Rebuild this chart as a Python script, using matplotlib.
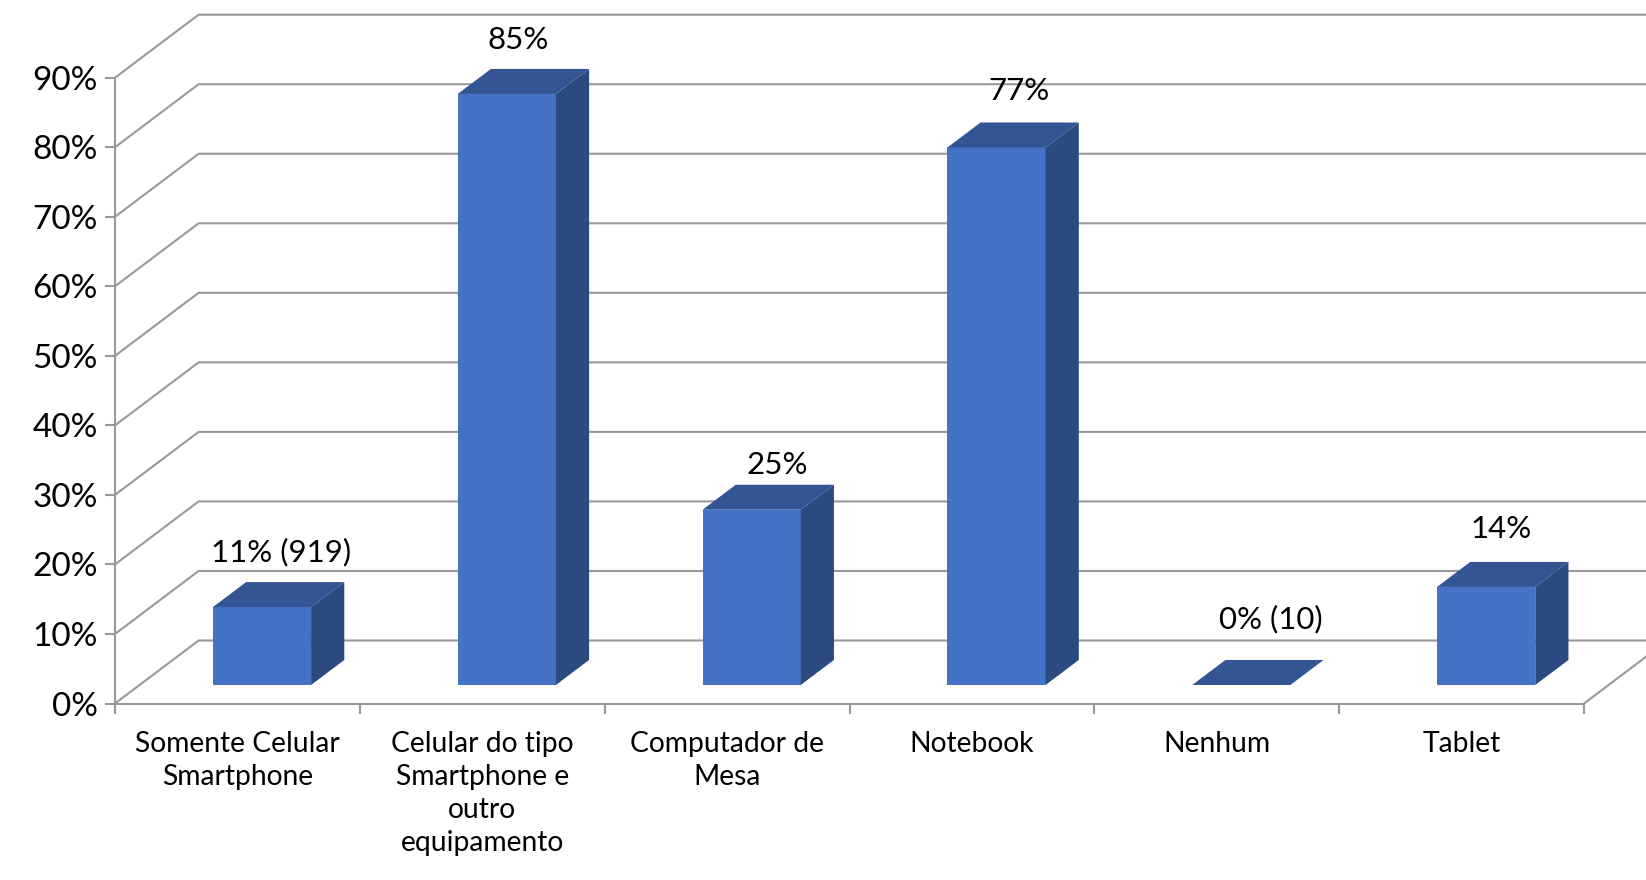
import matplotlib
matplotlib.use("Agg")
import matplotlib.pyplot as plt
from matplotlib.patches import Polygon

categories = ["Somente Celular\nSmartphone",
              "Celular do tipo\nSmartphone e\noutro\nequipamento",
              "Computador de\nMesa", "Notebook", "Nenhum", "Tablet"]
values = [11.2, 85.0, 25.2, 77.3, 0.0, 14.1]
value_labels = ["11% (919)", "85%", "25%", "77%", "0% (10)", "14%"]
y_ticks = [0, 10, 20, 30, 40, 50, 60, 70, 80, 90]

# label nudges in pixels, relative to the centre of the bar's top face
label_dx = [2, -5, 9, 6, 13, -2]
label_dy = [30, 29, 20, 31, 41, 33]

W, H = 1646, 880
plt.rcParams['font.family'] = ['Lato', 'DejaVu Sans']
fig = plt.figure(figsize=(W / 100, H / 100), dpi=100, facecolor='white')
x0, x1, y0, y90 = 115, 1584, 703.5, 77.7
ax = fig.add_axes([x0 / W, 1 - y0 / H, (x1 - x0) / W, (y0 - y90) / H])
ax.set_xlim(0, 6)
ax.set_ylim(0, 90)

GREY = '#999999'
LW = 1.5
# depth of the fake 3D box, in data units
DX = 83.6 / ((x1 - x0) / 6)
DY = 63 / ((y0 - y90) / 90)

for s in ('top', 'right'):
    ax.spines[s].set_visible(False)
for s in ('left', 'bottom'):
    ax.spines[s].set_color(GREY)
    ax.spines[s].set_linewidth(LW)
    ax.spines[s].set_zorder(2)

ax.set_yticks(y_ticks)
ax.set_yticklabels([f"{v}%" for v in y_ticks])
ax.set_xticks(range(7))
ax.set_xticklabels([])
ax.set_xticks([i + 0.5 for i in range(6)], minor=True)
ax.set_xticklabels(categories, minor=True, fontsize=20.3, linespacing=1.33, va='top')
ax.tick_params(axis='y', length=7.5, width=LW, color=GREY, labelsize=24, pad=5)
ax.tick_params(axis='x', which='major', length=7.5, width=LW, color=GREY)
ax.tick_params(axis='x', which='minor', length=0, pad=20)

# back wall gridlines and floor/side diagonals
for v in y_ticks:
    ax.plot([0, DX, 6 + DX], [v, v + DY, v + DY], color=GREY, lw=LW,
            clip_on=False, zorder=1, solid_joinstyle='miter')
ax.plot([6, 6 + DX], [0, DY], color=GREY, lw=LW, clip_on=False, zorder=1)

# bars
BW = 98.2 / ((x1 - x0) / 6)
F0, D = 0.294, 0.397  # front position and depth as fractions of the floor depth
FRONT, TOP, SIDE = '#4472C4', '#335593', '#2B4A80'
for i, (v, lab) in enumerate(zip(values, value_labels)):
    cx = i + 0.5
    l = cx - BW / 2 + F0 * DX
    r = l + BW
    b = F0 * DY
    t = b + v
    ddx, ddy = D * DX, D * DY
    if v > 0:
        ax.add_patch(Polygon([(l, b), (r, b), (r, t), (l, t)], fc=FRONT, ec='none',
                             zorder=3, clip_on=False))
        ax.add_patch(Polygon([(r, b), (r + ddx, b + ddy), (r + ddx, t + ddy), (r, t)],
                             fc=SIDE, ec='none', zorder=3, clip_on=False))
    ax.add_patch(Polygon([(l, t), (r, t), (r + ddx, t + ddy), (l + ddx, t + ddy)],
                         fc=TOP, ec='none', zorder=3, clip_on=False))
    ax.annotate(lab, xy=((l + r + ddx) / 2, t + ddy),
                xytext=(label_dx[i] * 0.72, label_dy[i] * 0.72),
                textcoords='offset points', ha='center', va='center',
                fontsize=22.5, color='black', zorder=5, annotation_clip=False)

fig.savefig('out.png', dpi=100, facecolor='white')
